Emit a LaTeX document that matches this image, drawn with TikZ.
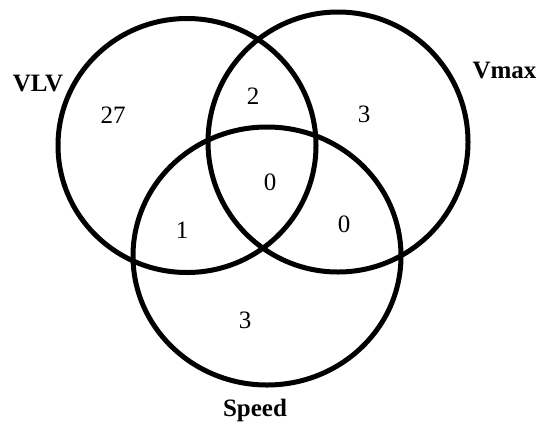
\documentclass[tikz,border=0pt]{standalone}
\usepackage{fontspec}
\setmainfont{Liberation Serif}
\begin{document}
\begin{tikzpicture}[x=1pt,y=-1pt,
  ring/.style={draw=black,line width=5pt},
  num/.style={inner sep=0pt,font=\fontsize{25}{30}\selectfont},
  setlabel/.style={inner sep=0pt,font=\fontsize{25}{30}\selectfont\bfseries}]
\useasboundingbox (0,0) rectangle (540,424);
\draw[ring] (187,145.5) ellipse [x radius=129, y radius=127];
\draw[ring] (338,142) ellipse [x radius=130, y radius=130];
\draw[ring] (267,256) ellipse [x radius=134, y radius=129];
\node[setlabel] (vlv) at (38,83.5) {VLV};
\node[setlabel] (vmax) at (504.5,70) {Vmax};
\node[setlabel,anchor=base] (speed) at (255,416) {Speed};
\node[num] (n27) at (113,115) {27};
\node[num] (n2) at (253,96) {2};
\node[num] (n3a) at (364,114) {3};
\node[num] (n0a) at (270,182) {0};
\node[num] (n1) at (182,230) {1};
\node[num] (n0b) at (344,224) {0};
\node[num] (n3b) at (245,320) {3};
\end{tikzpicture}
\end{document}
